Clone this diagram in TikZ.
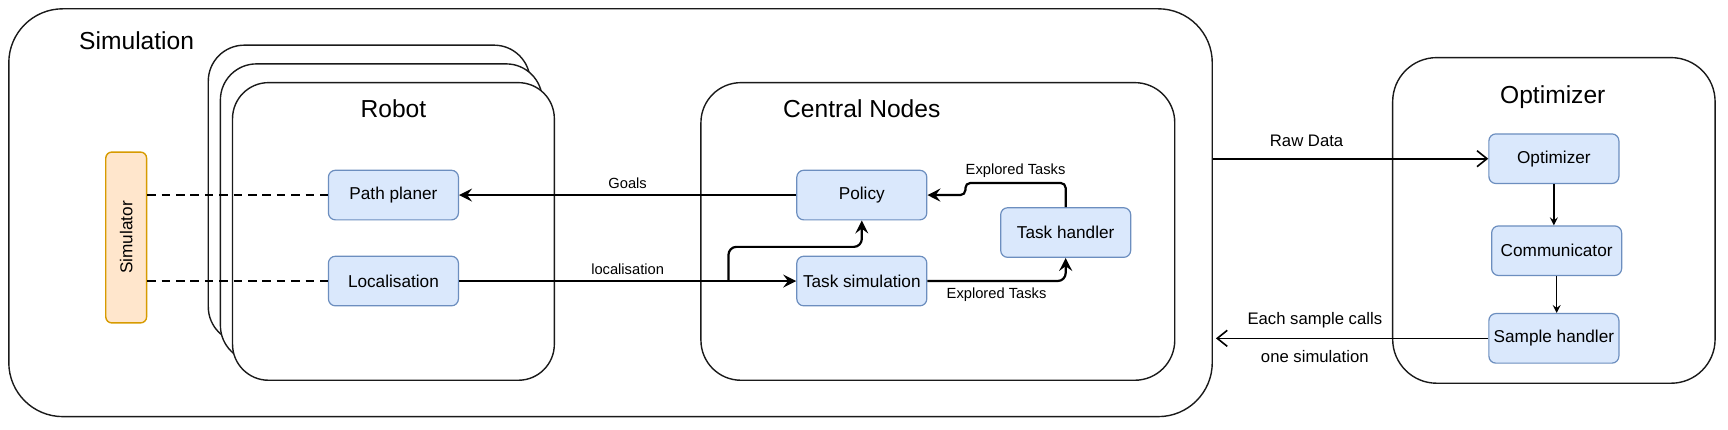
\documentclass[tikz,border=0pt]{standalone}
\usepackage{fontspec}
\setmainfont{Liberation Sans}
\usetikzlibrary{arrows.meta}
\definecolor{bfill}{HTML}{DAE8FC}
\definecolor{bline}{HTML}{6C8EBF}
\definecolor{ofill}{HTML}{FFE6CC}
\definecolor{oline}{HTML}{D79B00}
\definecolor{frame}{HTML}{1A1A1A}
\begin{document}
\begin{tikzpicture}[x=0.551pt,y=-0.551pt,
 container/.style={draw=frame, line width=0.7pt, fill=white, rectangle, inner sep=0pt},
 title/.style={font=\fontsize{12.3}{14}\selectfont, inner sep=0pt},
 blk/.style={draw=bline, fill=bfill, line width=0.6pt, rounded corners=3.5pt, minimum width=65pt, minimum height=24.8pt, inner sep=0pt, font=\fontsize{8.6}{10}\selectfont},
 lbl/.style={font=\fontsize{7.35}{9}\selectfont, inner sep=0pt},
 rlbl/.style={font=\fontsize{8.35}{10}\selectfont, inner sep=0pt},
 flow/.style={line width=1.1pt, -{Stealth[length=6.5pt,width=6.5pt,inset=2.4pt]}, rounded corners=4pt},
 thinarrow/.style={line width=0.6pt, -{Stealth[length=4pt,width=4pt,inset=1.5pt]}},
 openarrow/.style={line width=0.8pt, -{Straight Barb[length=5pt,width=8pt,line width=0.8pt]}},
 link/.style={line width=1.1pt, dash pattern=on 4.3pt off 2.9pt},
]
\useasboundingbox (0,0) rectangle (1568,390);
% containers
\node[container, rounded corners=27pt, minimum width=601.7pt, minimum height=203.9pt] (sim) at (554,193) {};
\node[title] (simt) at (124,37) {Simulation};
\node[container, rounded corners=18pt, minimum width=160.9pt, minimum height=148.8pt] (rob3) at (335,176) {};
\node[container, rounded corners=18pt, minimum width=160.9pt, minimum height=148.8pt] (rob2) at (346,193) {};
\node[container, rounded corners=18pt, minimum width=160.9pt, minimum height=148.8pt] (rob1) at (357,210) {};
\node[title] (robt) at (357,99) {Robot};
\node[container, rounded corners=20pt, minimum width=236.9pt, minimum height=148.8pt] (cen) at (851,210) {};
\node[title] (cent) at (782,99) {Central Nodes};
\node[container, rounded corners=22pt, minimum width=161.2pt, minimum height=162.8pt] (optc) at (1410,200) {};
\node[title] (optt) at (1409,88) {Optimizer};
% simulator
\node[draw=oline, fill=ofill, line width=0.7pt, rounded corners=3pt, minimum width=85.4pt, minimum height=20.4pt, rotate=90, inner sep=0pt, font=\fontsize{8.6}{10}\selectfont] (simr) at (114.5,215.5) {Simulator};
% blocks
\node[blk] (pp) at (357,177) {Path planer};
\node[blk] (loc) at (357,255) {Localisation};
\node[blk] (pol) at (782,177) {Policy};
\node[blk] (tsim) at (782,255) {Task simulation};
\node[blk] (th) at (967,211) {Task handler};
\node[blk] (opt) at (1410,144) {Optimizer};
\node[blk] (com) at (1412.5,227.5) {Communicator};
\node[blk] (sh) at (1410,307) {Sample handler};
% connectors
\draw[link] (simr.south |- pp.west) -- (pp.west);
\draw[link] (simr.south |- loc.west) -- (loc.west);
\draw[flow] (pol.west) -- node[lbl, midway, yshift=6pt] {Goals} (pp.east);
\draw[flow] (loc.east) -- node[lbl, midway, yshift=6pt] {localisation} (tsim.west);
\coordinate (br) at (661,255);
\draw[flow] (br) -- (br |- 0,224) -| (pol.south);
\draw[flow] (tsim.east) -| node[lbl, pos=0.25, yshift=-7pt] {Explored Tasks} (th.south);
\draw[flow, rounded corners=2.5pt] (th.north) -- (th.north |- 0,166) -- node[lbl, midway, yshift=6pt] {Explored Tasks} (876,166) -- (876,177) -- (pol.east);
\draw[openarrow] (sim.east |- opt.west) -- node[rlbl, pos=0.34, yshift=9pt] {Raw Data} (opt.west);
\draw[openarrow, shorten >=1.5pt] (sh.west) -- node[rlbl, pos=0.63, yshift=9pt] {Each sample calls} node[rlbl, pos=0.63, yshift=-9pt] {one simulation} (sim.east |- sh.west);
\draw[thinarrow] (opt.south) -- (opt.south |- com.north);
\draw[thinarrow] (com.south) -- (com.south |- sh.north);
\end{tikzpicture}
\end{document}
